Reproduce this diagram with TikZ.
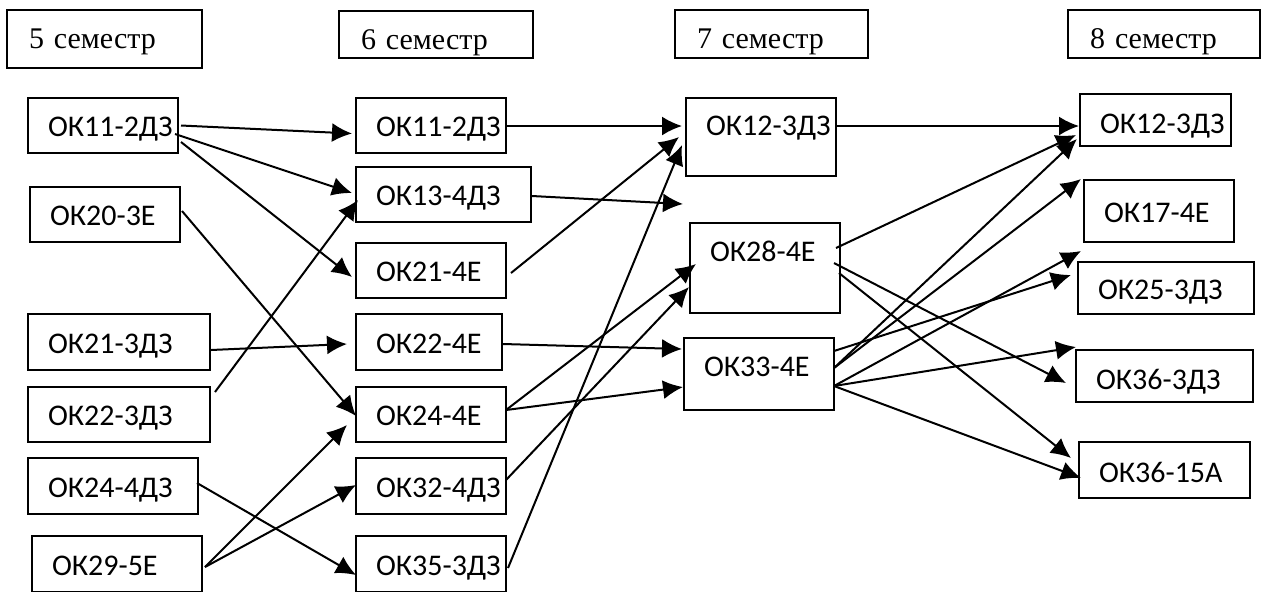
\documentclass[tikz,border=0pt]{standalone}
\usepackage{fontspec}
\newfontfamily\kursfont{Carlito}
\newfontfamily\semfont{Liberation Serif}
\usetikzlibrary{arrows.meta,calc}
\begin{document}
\begin{tikzpicture}[x=0.5pt,y=0.5pt,yscale=-1,xscale=1,
    kurs/.style={draw, line width=1pt, inner xsep=0pt, inner ysep=0pt, align=left,
        text height=11.2pt, text depth=0pt, font=\kursfont\fontsize{15pt}{18pt}\selectfont,
        execute at begin node={\exhyphenpenalty=10000\hspace*{10pt}}},
    sem/.style={draw, line width=1pt, inner xsep=0pt, inner ysep=0pt, align=left,
        text depth=0pt, font=\semfont\fontsize{15pt}{18pt}\selectfont,
        execute at begin node={\hspace*{11pt}}},
    arr/.style={-{Latex[length=10pt,width=9.5pt]}, line width=1pt}]
\useasboundingbox (0,0) rectangle (1263,591);

%Shape: Rectangle
\node [sem, text width=97.5pt, minimum height=29pt, text height=9pt] (h5) at (104.5,39) {5 семестр};
%Shape: Rectangle
\node [sem, text width=97pt, minimum height=23.5pt, text height=14.5pt] (h6) at (436,34.5) {6 семестр};
%Shape: Rectangle
\node [sem, text width=96.5pt, minimum height=24pt, text height=14.5pt] (h7) at (771.5,34) {7 семестр};
%Shape: Rectangle
\node [sem, text width=96pt, minimum height=24pt, text height=14.5pt] (h8) at (1164,34) {8 семестр};

%Shape: Rectangle
\node [kurs, text width=75pt, minimum height=27.5pt] (a1) at (103,125.5) {ОК11-2ДЗ};
%Shape: Rectangle
\node [kurs, text width=75pt, minimum height=27.5pt] (a2) at (105,214.5) {ОК20-3Е};
%Shape: Rectangle
\node [kurs, text width=91pt, minimum height=28pt] (a3) at (119,342) {ОК21-3ДЗ};
%Shape: Rectangle
\node [kurs, text width=91pt, minimum height=27.5pt] (a4) at (119,414.5) {ОК22-3ДЗ};
%Shape: Rectangle
\node [kurs, text width=85pt, minimum height=28pt] (a5) at (113,486) {ОК24-4ДЗ};
%Shape: Rectangle
\node [kurs, text width=85pt, minimum height=28pt] (a6) at (117,564) {ОК29-5Е};

%Shape: Rectangle
\node [kurs, text width=75pt, minimum height=27.5pt] (b1) at (431,125.5) {ОК11-2ДЗ};
%Shape: Rectangle
\node [kurs, text width=87.5pt, minimum height=27.5pt] (b2) at (443.5,194.5) {ОК13-4ДЗ};
%Shape: Rectangle
\node [kurs, text width=75pt, minimum height=27.5pt] (b3) at (431,270.5) {ОК21-4Е};
%Shape: Rectangle
\node [kurs, text width=73pt, minimum height=28pt] (b4) at (429,342) {ОК22-4Е};
%Shape: Rectangle
\node [kurs, text width=75pt, minimum height=27.5pt] (b5) at (431,414.5) {ОК24-4Е};
%Shape: Rectangle
\node [kurs, text width=75pt, minimum height=28pt] (b6) at (431,486) {ОК32-4ДЗ};
%Shape: Rectangle
\node [kurs, text width=75pt, minimum height=28pt] (b7) at (431,564) {ОК35-3ДЗ};

%Shape: Rectangle
\node [kurs, text width=75pt, minimum height=39pt, text depth=12.9pt] (c1) at (761,137) {ОК12-3ДЗ};
%Shape: Rectangle
\node [kurs, text width=75pt, minimum height=45pt, text depth=17.4pt] (c2) at (765,268) {ОК28-4Е};
%Shape: Rectangle
\node [kurs, text width=75pt, minimum height=36pt, text depth=8.4pt] (c3) at (759,374) {ОК33-4Е};
\coordinate (pusto) at (683,204);

%Shape: Rectangle
\node [kurs, text width=75.5pt, minimum height=26pt, text height=13.5pt] (d1) at (1155.5,120) {ОК12-3ДЗ};
%Shape: Rectangle
\node [kurs, text width=75pt, minimum height=31pt] (d2) at (1159,211) {ОК17-4Е};
%Shape: Rectangle
\node [kurs, text width=88pt, minimum height=26pt] (d3) at (1166,288) {ОК25-3ДЗ};
%Shape: Rectangle
\node [kurs, text width=88.5pt, minimum height=26pt, text height=13pt] (d4) at (1164.5,376) {ОК36-3ДЗ};
%Shape: Rectangle
\node [kurs, text width=85.5pt, minimum height=28pt, text height=12.2pt] (d5) at (1164.5,470) {ОК36-15А};

%Straight Lines
\draw [arr] ($(a1.east)+(2,0)$) -- ($(b1.west)+(-3,8)$);
\draw [arr] ($(a1.east)+(-4,8.5)$) -- ($(b2.west)+(-3,-1.5)$);
\draw [arr] ($(a1.east)+(2,16.5)$) -- ($(b3.west)+(-3,6.5)$);
\draw [arr] ($(a2.east)+(1,-3.5)$) -- ($(b5.west)+(1,1.5)$);
\draw [arr] ($(a3.east)+(0,8)$) -- ($(b4.west)+(-8,2)$);
\draw [arr] ($(a4.north east)+(4,6)$) -- ($(b2.west)+(3,5.5)$);
\draw [arr] ($(a5.east)+(-2,-3)$) -- ($(b7.west)+(1,11)$);
\draw [arr] ($(a6.east)+(2,3)$) -- ($(b5.west)+(-8,10.5)$);
\draw [arr] ($(a6.east)+(2,3)$) -- ($(b6.west)+(1,-1)$);

%Straight Lines
\draw [arr] ($(b1.east)+(0,0.5)$) -- ($(c1.west)+(-3,-11)$);
\draw [arr] ($(b2.east)+(0,1.5)$) -- (pusto);
\draw [arr] ($(b3.east)+(4,2.5)$) -- ($(c1.west)+(-6,0)$);
\draw [arr] ($(b4.east)+(0,2)$) -- ($(c3.west)+(-1,-25)$);
\draw [arr] ($(b5.east)+(-1,-4.5)$) -- ($(c2.west)+(7,-4)$);
\draw [arr] ($(b5.east)+(-1,-4.5)$) -- ($(c3.west)+(0,13)$);
\draw [arr] ($(b6.east)+(-1,-6)$) -- ($(c2.west)+(0,19)$);
\draw [arr] ($(b7.east)+(1,4)$) -- ($(c1.west)+(-3,8)$);

%Straight Lines
\draw [arr] ($(c1.east)+(0,-11)$) -- ($(d1.west)+(0,6)$);
\draw [arr] ($(c2.east)+(-5,-20)$) -- ($(d1.west)+(-3,15)$);
\draw [arr] ($(c2.east)+(-7,-5)$) -- ($(d4.west)+(-9,7)$);
\draw [arr] ($(c2.east)+(-2,5)$) -- ($(d5.west)+(-7,-12)$);
\draw [arr] ($(c3.east)+(-1,-23)$) -- ($(d3.west)+(-6,-13)$);
\draw [arr] ($(c3.east)+(-1,-6)$) -- ($(d1.west)+(-2,19)$);
\draw [arr] ($(c3.east)+(-1,-6)$) -- ($(d2.north west)+(-2,0)$);
\draw [arr] ($(c3.east)+(-1,12)$) -- ($(d3.north west)+(4,-10)$);
\draw [arr] ($(c3.east)+(-1,12)$) -- ($(d4.north west)+(1,-2)$);
\draw [arr] ($(c3.east)+(-1,12)$) -- ($(d5.west)+(3,8)$);
\end{tikzpicture}
\end{document}
